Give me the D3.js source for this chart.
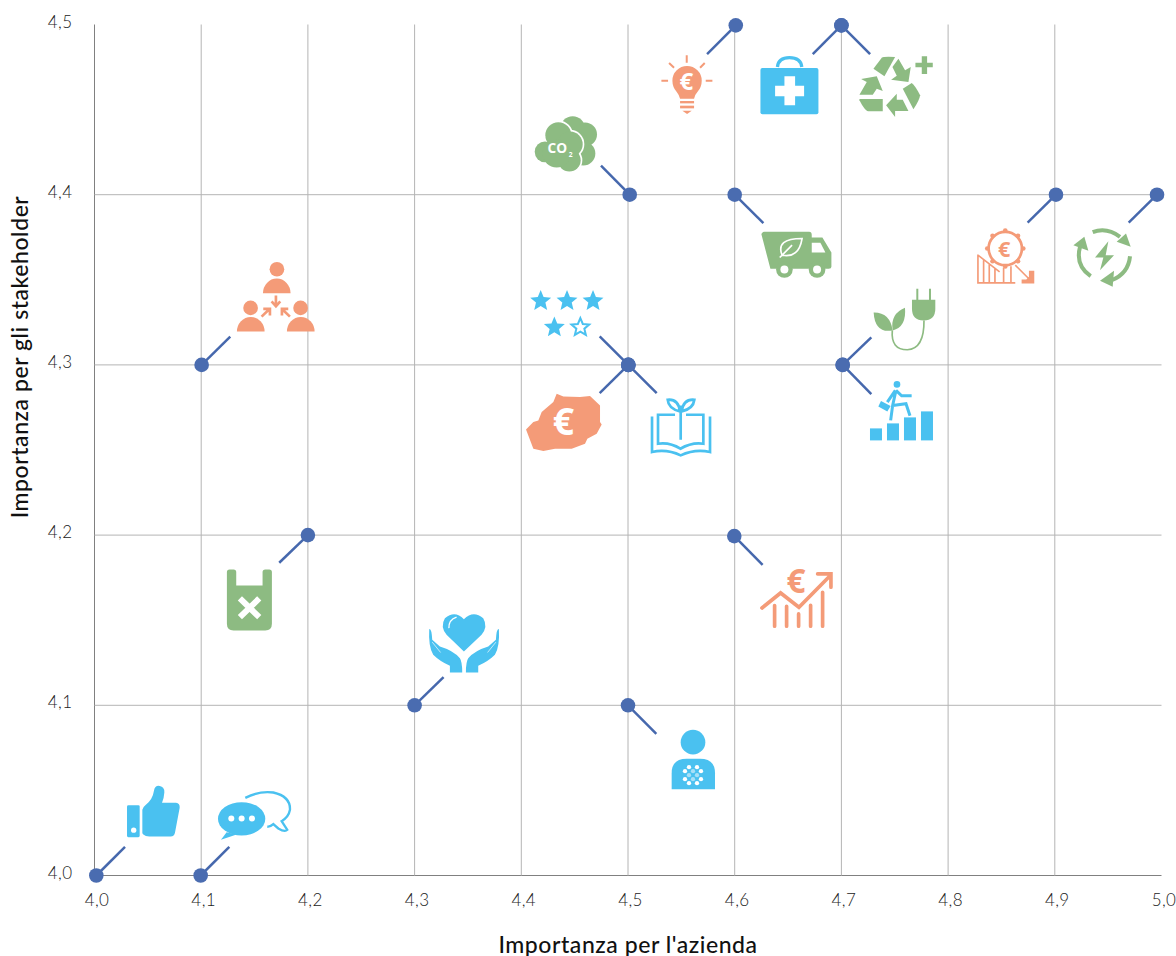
<!DOCTYPE html>
<html>
<head>
<meta charset="utf-8">
<title>Matrice di materialità</title>
<script src="https://cdn.jsdelivr.net/npm/d3@7"></script>
<style>
  html, body { margin: 0; padding: 0; background: #fff; }
  svg { display: block; }
  text { font-family: Lato, "Open Sans", sans-serif; }
  .tick text { font-size: 17px; font-weight: 300; fill: #222; letter-spacing: 0.4px; }
  .titolo { font-size: 23px; font-weight: 500; fill: #111; letter-spacing: 0.55px; }
  .icona text { font-family: "Open Sans", sans-serif; font-weight: 700; text-anchor: middle; }
</style>
</head>
<body>
<svg id="chart" width="1176" height="956"></svg>
<script>
// dati
const temi = ['consenso', 'dialogo', 'persone', 'plastica', 'cura', 'privacy', 'crescita',
  'stelle', 'risparmio', 'formazione', 'energiaVerde', 'carriera', 'co2', 'idee', 'salute',
  'riciclo', 'trasporti', 'costi', 'rinnovabili'];
const importanzaAzienda = [4.0017, 4.0995, 4.1004, 4.2, 4.3, 4.5, 4.5996,
  4.5003, 4.5003, 4.5003, 4.7012, 4.7012, 4.5016, 4.601, 4.7,
  4.7, 4.6, 4.9011, 4.9958];
const importanzaStakeholder = [4.0, 4.0, 4.3, 4.2, 4.1, 4.1, 4.1994,
  4.3, 4.3, 4.3, 4.3, 4.3, 4.4, 4.4995, 4.4995,
  4.4995, 4.4, 4.4, 4.4];
const tickX = [4.0, 4.1, 4.2, 4.3, 4.4, 4.5, 4.6, 4.7, 4.8, 4.9, 5.0];
const tickY = [4.0, 4.1, 4.2, 4.3, 4.4, 4.5];

const BLU = '#4ac1f0', VERDE = '#8dbb82', SALMONE = '#f49b78';
const COL_PUNTO = '#4a6cb0';

const svg = d3.select('#chart');

const x = d3.scaleLinear().domain([4, 5]).range([94.5, 1161.5]);
const y = d3.scaleLinear().domain([4, 4.5]).range([875.5, 24.5]);
const virgola = d => d.toFixed(1).replace('.', ',');

// griglia verticale e tick asse x
const assex = svg.append('g')
    .attr('transform', 'translate(0,875.5)')
    .call(d3.axisBottom(x).tickValues(tickX).tickFormat(virgola).tickSizeInner(-851).tickSizeOuter(0).tickPadding(18).offset(0));
assex.select('.domain').attr('stroke', '#808080');
assex.selectAll('.tick line').attr('stroke', '#b4b4b4').attr('stroke-width', 1)
    .filter(d => d === 5 || d === 4).remove();
assex.selectAll('.tick text').attr('dx', 2.5);

// griglia orizzontale e tick asse y
const assey = svg.append('g')
    .attr('transform', 'translate(94.5,0)')
    .call(d3.axisLeft(y).tickValues(tickY).tickFormat(virgola).tickSizeInner(-1067).tickSizeOuter(0).tickPadding(22).offset(0));
assey.select('.domain').attr('stroke', '#808080');
assey.selectAll('.tick line').attr('stroke', '#b4b4b4').attr('stroke-width', 1)
    .filter(d => d === 4.5 || d === 4).remove();
assey.selectAll('.tick text').attr('dy', '0.18em');

svg.append('text').attr('class', 'titolo')
    .attr('x', 628).attr('y', 952.5).attr('text-anchor', 'middle')
    .text("Importanza per l'azienda");
svg.append('text').attr('class', 'titolo')
    .attr('transform', 'translate(28,357) rotate(-90)').attr('text-anchor', 'middle')
    .text('Importanza per gli stakeholder');

// stella a 5 punte, serve solo per le icone
function stella(cx, cy, r) {
  const p = d3.range(10).map(i => {
    const a = -Math.PI / 2 + i * Math.PI / 5, q = i % 2 ? r * 0.45 : r;
    return (cx + q * Math.cos(a)).toFixed(1) + ' ' + (cy + q * Math.sin(a)).toFixed(1);
  });
  return 'M' + p.join('L') + 'Z';
}

// icone disegnate a mano, coordinate in px x3 (ricalcate dal ritaglio)
// off = origine del ritaglio rispetto al punto, fine = fine della linea guida
const icone = {
  consenso: { off: [-56.3, -105], fine: [255, 229], svg: `<g fill="${BLU}">
    <path d="M261 108q0-4 4-4h30q4 0 4 4v88q0 4-4 4h-30q-4 0-4-4z"/>
    <path d="M307 118Q308 110 316 104Q338 88 342 60Q344 46 356 46Q374 48 373 66Q372 82 366 97H408Q420 98 419 112L405 186Q403 198 392 198H328Q316 198 310 192L307 188Z"/>
    <circle cx="281" cy="179" r="8" fill="#fff"/></g>` },
  dialogo: { off: [-160.7, -105], fine: [568, 229], svg: `<g fill="${BLU}">
    <ellipse cx="605" cy="145" rx="71" ry="50"/><path d="M560 185L543 208L590 192Z"/>
    <circle cx="574" cy="144" r="9" fill="#fff"/><circle cx="605" cy="144" r="9" fill="#fff"/><circle cx="636" cy="144" r="9" fill="#fff"/>
    <path d="M616 82Q660 60 700 66Q752 78 750 118Q746 140 725 152L742 178Q735 186 715 174L700 161Q690 170 682 168" fill="none" stroke="${BLU}" stroke-width="7"/></g>` },
  persone: { off: [-11.7, -114.3], fine: [121, 258], svg: `<g fill="${SALMONE}">
    <circle cx="261" cy="56" r="22"/><path d="M219 128a41.500 44 0 0 1 83 0z"/>
    <circle cx="182" cy="172" r="22"/><path d="M141 243a41.500 44 0 0 1 83 0z"/>
    <circle cx="332" cy="172" r="22"/><path d="M291 243a41.500 44 0 0 1 83 0z"/>
    <g fill="none" stroke="${SALMONE}" stroke-width="8">
    <path d="M258 135V165M245 152L258 167L271 152"/>
    <path d="M215 198L238 176M220 175H240V195"/><path d="M300 198L277 176M295 175H276V195"/></g></g>` },
  plastica: { off: [-108, -15], fine: [238, 128], svg: `<path fill="${VERDE}" d="M81 156q0-8 8-8h12q8 0 8 8v40h79v-40q0-8 8-8h12q8 0 8 8v155q0 20-20 20h-95q-20 0-20-20z"/>
    <path d="M120 235L178 291M178 235L120 291" stroke="#fff" stroke-width="18" fill="none"/>` },
  cura: { off: [-14.7, -175.5], fine: [131, 442], svg: `<g fill="${BLU}">
    <path d="M192 365L140 315Q120 290 135 265Q165 240 192 268Q220 240 250 265Q265 290 245 315Z"/>
    <path d="M147 295Q146 270 170 262" fill="none" stroke="#fff" stroke-width="4"/>
    <path d="M88 298Q95 295 97 330L120 350Q160 362 180 385Q187 395 187 428H150V408Q120 395 100 375Q85 350 88 298Z"/>
    <path transform="translate(385,0) scale(-1,1)" d="M88 298Q95 295 97 330L120 350Q160 362 180 385Q187 395 187 428H150V408Q120 395 100 375Q85 350 88 298Z"/></g>
    <path d="M97 337L122 368M288 337L263 368" stroke="#fff" stroke-width="2" fill="none"/>` },
  privacy: { off: [-228, -175.5], fine: [769, 612], svg: `<g fill="${BLU}"><circle cx="879" cy="637" r="37"/>
    <path d="M815 778V730Q815 687 860 687H900Q945 687 945 730V778Z"/></g>
    <g fill="#fff"><circle cx="867" cy="712" r="6.500"/><circle cx="891" cy="712" r="6.500"/><circle cx="855" cy="724" r="6.500"/><circle cx="903" cy="724" r="6.500"/>
    <circle cx="855" cy="748" r="6.500"/><circle cx="903" cy="748" r="6.500"/><circle cx="867" cy="760" r="6.500"/><circle cx="891" cy="760" r="6.500"/></g>
    <g fill="#a8e0f7"><circle cx="879" cy="724" r="6.500"/><circle cx="867" cy="736" r="6.500"/><circle cx="891" cy="736" r="6.500"/><circle cx="879" cy="748" r="6.500"/></g>` },
  crescita: { off: [-334, -5.5], fine: [1087, 103], svg: `<text x="1187" y="187" font-size="100" fill="${SALMONE}">€</text>
    <g fill="none" stroke="${SALMONE}" stroke-width="11" stroke-linecap="round">
    <path d="M1085 232L1141 187L1196 230L1288 137M1252 130H1292V170"/>
    <path d="M1123 225V287M1159 227V287M1195 250V287M1231 224V287M1267 185V287"/></g>` },
  stelle: { off: [-128.3, -84.5], fine: [299, 168], svg: `<g fill="${BLU}"><path d="${stella(122, 62, 33) + stella(201, 62, 33) + stella(279, 62, 33) + stella(163, 141, 33)}"/>
    <path d="${stella(241, 141, 28)}" fill="none" stroke="${BLU}" stroke-width="6"/></g>` },
  risparmio: { off: [-128.3, -84.5], fine: [299, 338], svg: `<path fill="${SALMONE}" d="M78 447L100 425L115 420L125 395L160 365L170 340L190 348L240 350L270 347L300 375L300 425L305 432L290 460L262 475L255 490L215 505L165 505L130 512L100 505Z"/>
    <text x="190" y="465" font-size="112" fill="#fff">€</text>` },
  formazione: { off: [-128.3, -84.5], fine: [470, 338], svg: `<g fill="none" stroke="${BLU}" stroke-width="8">
    <path d="M456 408V515Q500 505 542 525Q585 505 630 515V408"/>
    <path d="M525 403H474V490Q510 485 541 505Q575 485 610 490V403H558"/>
    <path d="M542 478V375M540 393Q505 385 503 358Q535 355 540 393M545 393Q580 385 583 358Q550 355 545 393"/></g>` },
  energiaVerde: { off: [-342.7, -84.5], fine: [1114, 171], svg: `<g fill="${VERDE}">
    <path d="M1121 96Q1170 95 1178 150Q1125 160 1121 96Z"/><path d="M1178 150Q1170 100 1215 82Q1220 140 1178 150Z"/>
    <path d="M1236 58H1306V85Q1306 120 1271 120Q1236 120 1236 85Z"/>
    <rect x="1249" y="25" width="6" height="35"/><rect x="1287" y="25" width="6" height="35"/>
    <path d="M1177 150Q1172 208 1222 208Q1273 205 1272 120" fill="none" stroke="${VERDE}" stroke-width="5"/></g>` },
  carriera: { off: [-342.7, -84.5], fine: [1114, 341], svg: `<g fill="${BLU}">
    <rect x="1110" y="444" width="36" height="36"/><rect x="1161" y="429" width="36" height="51"/>
    <rect x="1212" y="411" width="36" height="69"/><rect x="1263" y="393" width="36" height="87"/>
    <circle cx="1191" cy="312" r="10"/><path d="M1143 362L1172 377L1162 393L1135 378Z"/>
    <g fill="none" stroke="${BLU}" stroke-width="9"><path d="M1188 330L1178 375L1172 420M1178 375L1218 370L1230 406M1188 330L1205 346H1235M1186 330L1162 365"/></g></g>` },
  co2: { off: [-129.7, -194.5], fine: [303, 496], svg: `<g fill="${VERDE}"><circle cx="218" cy="385" r="37"/><circle cx="255" cy="403" r="36"/><circle cx="250" cy="460" r="36"/><circle cx="225" cy="430" r="40"/>
    <g stroke="#fff" stroke-width="10"><circle cx="175" cy="405" r="39"/><circle cx="135" cy="455" r="31"/><circle cx="208" cy="480" r="34"/><circle cx="210" cy="432" r="38"/></g>
    <circle cx="175" cy="405" r="39"/><circle cx="135" cy="455" r="31"/><circle cx="208" cy="480" r="34"/><circle cx="210" cy="432" r="38"/><circle cx="170" cy="460" r="42"/></g>
    <text x="172" y="458" font-size="41" fill="#fff">CO</text><text x="212" y="470" font-size="20" fill="#fff">2</text>` },
  idee: { off: [-235.7, -25], fine: [621, 161], svg: `<g stroke="${SALMONE}" stroke-width="6"><path d="M560 165V187M507 188L522 202M614 188L600 202M484 241H504M617 241H637"/></g>
    <g fill="${SALMONE}"><path d="M561 197a44 44 0 0 1 44 44Q605 260 592 275Q583 285 582 295H540Q538 285 530 275Q517 260 517 241a44 44 0 0 1 44-44Z"/>
    <rect x="540" y="302" width="42" height="7"/><rect x="540" y="316" width="42" height="8"/><path d="M547 331H575L561 341Z"/></g>
    <text x="559" y="268" font-size="72" fill="#fff">€</text>` },
  salute: { off: [-341.3, -25], fine: [938, 161], svg: `<path d="M832 200Q835 172 868 172Q902 172 905 200" fill="none" stroke="${BLU}" stroke-width="10"/>
    <rect x="781" y="203" width="174" height="139" rx="6" fill="${BLU}"/>
    <path d="M853 228H885V256H912V288H885V315H853V288H825V256H853Z" fill="#fff"/>` },
  riciclo: { off: [-341.3, -25], fine: [1110, 161], svg: `<g fill="${VERDE}">
    <path d="M1120 205L1145 172Q1150 168 1185 170L1153 228Z"/>
    <path d="M1195 175L1215 210L1232 200L1225 245L1173 238L1190 226L1177 200Z"/>
    <path d="M1208 265L1235 248Q1245 255 1260 285Q1258 300 1240 327Z"/>
    <path d="M1225 332H1185V350L1158 315L1190 280V298H1208Z"/>
    <path d="M1078 296H1148V333H1105Q1095 333 1078 300Z"/>
    <path d="M1078 283L1100 245L1083 236L1130 228L1148 272L1130 265L1118 283Z"/>
    <path d="M1265 168H1281V187H1298V201H1281V221H1265V201H1246V187H1265Z"/></g>` },
  trasporti: { off: [-234.3, -194.5], fine: [789, 669], svg: `<path fill="${VERDE}" d="M783 702Q783 695 792 695H926Q934 695 934 704V712H966L993 757V800Q993 806 985 806H810Z"/>
    <path fill="#fff" d="M934 728H960L975 757H934Z"/>
    <circle cx="852" cy="808" r="25" fill="${VERDE}"/><circle cx="950" cy="808" r="25" fill="${VERDE}"/>
    <circle cx="852" cy="808" r="12" fill="#fff"/><circle cx="950" cy="808" r="12" fill="#fff"/>
    <path d="M845 765Q825 715 905 715Q895 775 845 765ZM838 772L875 735" fill="none" stroke="#fff" stroke-width="5"/>` },
  costi: { off: [-215.7, -174.5], fine: [562, 607], svg: `<g fill="none" stroke="${SALMONE}"><circle cx="495" cy="685" r="50" stroke-width="8"/>
    <path stroke-width="5" d="M413 703V788H525M413 705L478 755M430 720V788M447 733V788M464 745V788M490 742V788M512 738V788M525 735L565 775"/></g>
    <g fill="${SALMONE}">${d3.range(8).map(i => `<circle cx="${(495 + 54 * Math.cos(i * Math.PI / 4)).toFixed(1)}" cy="${(685 + 54 * Math.sin(i * Math.PI / 4)).toFixed(1)}" r="7"/>`).join('')}
    <path d="M582 752V790H544V778H558L566 770V752Z"/></g>
    <text x="492" y="710" font-size="65" fill="${SALMONE}">€</text>` },
  rinnovabili: { off: [-317, -174.5], fine: [866, 607], svg: `<g fill="none" stroke="${VERDE}" stroke-width="12">
    <path d="M758 636Q800 620 840 650M870 708Q865 760 815 780M752 768Q705 735 720 680"/></g>
    <g fill="${VERDE}"><path d="M858 640L872 680L830 665Z"/><path d="M822 752L780 782L818 800Z"/><path d="M733 650L700 675L745 692Z"/>
    <path d="M805 663L765 712H790L780 750L822 705H797Z"/></g>` }
};

// linee guida, poi punti sopra, poi icone
const gruppi = svg.selectAll('g.tema')
  .data(temi)
  .enter().append('g')
    .attr('class', 'tema')
    .attr('transform', (d, i) => 'translate(' + x(importanzaAzienda[i]) + ',' + y(importanzaStakeholder[i]) + ')');

gruppi.append('line')
    .attr('x1', 0).attr('y1', 0)
    .attr('x2', d => icone[d].off[0] + icone[d].fine[0] / 3)
    .attr('y2', d => icone[d].off[1] + icone[d].fine[1] / 3)
    .attr('stroke', '#4668ad')
    .attr('stroke-width', 2.5);

gruppi.append('g')
    .attr('class', 'icona')
    .attr('transform', d => 'translate(' + icone[d].off[0] + ',' + icone[d].off[1] + ') scale(' + (1 / 3) + ')')
    .html(d => icone[d].svg);

gruppi.append('circle')
    .attr('r', 7.3)
    .attr('fill', COL_PUNTO);
</script>
</body>
</html>
